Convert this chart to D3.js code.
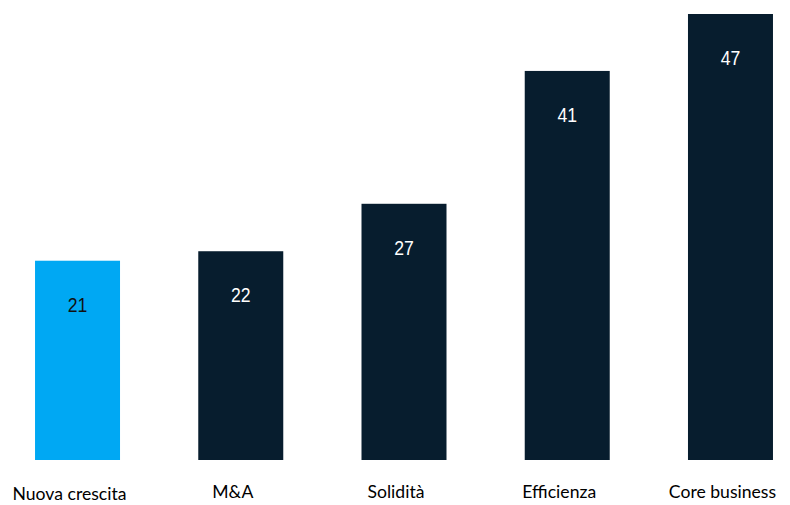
<!DOCTYPE html>
<html><head><meta charset="utf-8">
<script src="https://cdn.jsdelivr.net/npm/d3@7"></script>
<style>html,body{margin:0;padding:0;background:#fff;}</style>
</head><body>
<svg id="chart" width="790" height="505"></svg>
<script>
const categories = ["Nuova crescita", "M&A", "Solidità", "Efficienza", "Core business"];
const values = [21, 22, 27, 41, 47];
const highlight = ["Nuova crescita"];

const W = 790, H = 505;
const svg = d3.select("#chart");
const x = d3.scaleBand().domain(categories).range([-4.1, 812.1]).paddingInner(0.4793).paddingOuter(0.2397);
const y = d3.scaleLinear().domain([0, 47]).range([460, 14]);
const data = categories.map((c, i) => ({c, v: values[i]}));

svg.selectAll("rect.bar").data(data).join("rect")
  .attr("class", "bar")
  .attr("x", d => x(d.c)).attr("width", x.bandwidth())
  .attr("y", d => y(d.v)).attr("height", d => y(0) - y(d.v))
  .attr("fill", d => highlight.includes(d.c) ? "#00A8F3" : "#071D2E");

svg.selectAll("text.val").data(data).join("text")
  .attr("class", "val")
  .attr("transform", d => `translate(${x(d.c) + x.bandwidth() / 2},${y(d.v) + 51}) scale(0.84,1)`)
  .attr("text-anchor", "middle")
  .style("font-family", "'Liberation Sans', 'DejaVu Sans', sans-serif")
  .style("font-size", "21px")
  .attr("fill", d => highlight.includes(d.c) ? "#111111" : "#ffffff")
  .text(d => d.v);

svg.selectAll("text.cat").data(data).join("text")
  .attr("class", "cat")
  .attr("x", d => x(d.c) + x.bandwidth() / 2 - 8)
  .attr("y", (d, i) => i === 0 ? 500 : 498)
  .attr("text-anchor", "middle")
  .style("font-family", "Lato, 'Open Sans', sans-serif")
  .style("font-size", "17.6px")
  .attr("fill", "#000")
  .text(d => d.c)
  .each(function() {
    const bb = this.getBBox();
    if (bb.x + bb.width > W - 3) d3.select(this).attr("x", +d3.select(this).attr("x") - (bb.x + bb.width - (W - 3)));
  });
</script>
</body></html>
